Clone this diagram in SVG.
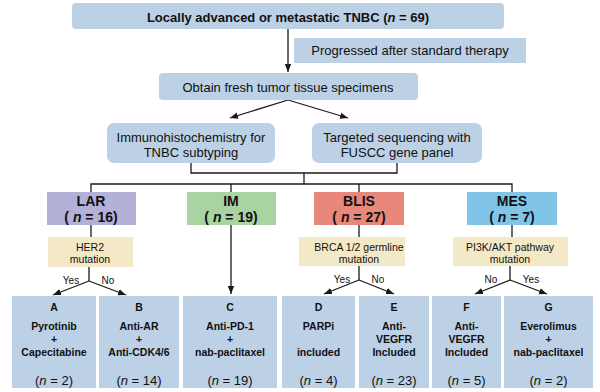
<svg xmlns="http://www.w3.org/2000/svg" width="600" height="392" viewBox="0 0 600 392">
<defs>
<marker id="ah" markerUnits="userSpaceOnUse" markerWidth="8" markerHeight="8" viewBox="0 0 8 8" refX="8" refY="4" orient="auto">
<path d="M0,0.8 L8,4 L0,7.2 Z" fill="#1a1a1a"/>
</marker>
<style>
text{font-family:"Liberation Sans",Arial,sans-serif;fill:#111;text-anchor:middle}
.b{font-weight:bold}
.blue{fill:#bcd0e6}
.yel{fill:#f3e9c7}
.t13{font-size:13px}
.t14{font-size:14px}
.t11{font-size:10.5px}
.t10{font-size:10px}
.bt{font-size:10.5px;font-weight:bold}
.nn{font-size:13px}
.ln{fill:none;stroke:#1a1a1a;stroke-width:1.3}
</style>
</defs>

<g id="connectors">
<line class="ln" x1="288" y1="29" x2="288" y2="72" marker-end="url(#ah)"/>
<line class="ln" x1="288" y1="100" x2="230" y2="118" marker-end="url(#ah)"/>
<line class="ln" x1="288" y1="100" x2="348" y2="118" marker-end="url(#ah)"/>
<polyline class="ln" points="191,163 191,173 397,173 397,163"/>
<line class="ln" x1="304" y1="173" x2="304" y2="184"/>
<polyline class="ln" points="91,192 91,184 512,184 512,192"/>
<line class="ln" x1="231" y1="184" x2="231" y2="192"/>
<line class="ln" x1="359" y1="184" x2="359" y2="192"/>
<line class="ln" x1="91" y1="225" x2="91" y2="237"/>
<line class="ln" x1="359" y1="225" x2="359" y2="237"/>
<line class="ln" x1="512" y1="225" x2="512" y2="237"/>
<line class="ln" x1="231" y1="225" x2="231" y2="294" marker-end="url(#ah)"/>
<line class="ln" x1="89" y1="267" x2="89" y2="281"/>
<line class="ln" x1="89" y1="281" x2="53" y2="295" marker-end="url(#ah)"/>
<line class="ln" x1="89" y1="281" x2="126" y2="295" marker-end="url(#ah)"/>
<line class="ln" x1="359" y1="266" x2="359" y2="280"/>
<line class="ln" x1="359" y1="280" x2="324" y2="294" marker-end="url(#ah)"/>
<line class="ln" x1="359" y1="280" x2="394" y2="294" marker-end="url(#ah)"/>
<line class="ln" x1="510" y1="266" x2="510" y2="280"/>
<line class="ln" x1="510" y1="280" x2="475" y2="294" marker-end="url(#ah)"/>
<line class="ln" x1="510" y1="280" x2="547" y2="294" marker-end="url(#ah)"/>
<text class="t10" x="71" y="284">Yes</text>
<text class="t10" x="108" y="284">No</text>
<text class="t10" x="342" y="283">Yes</text>
<text class="t10" x="378" y="283">No</text>
<text class="t10" x="491" y="283">No</text>
<text class="t10" x="531" y="283">Yes</text>
</g>

<g id="top">
<rect class="blue" x="72" y="3" width="432" height="26" rx="4"/>
<text class="b t13" x="288" y="22">Locally advanced or metastatic TNBC (<tspan font-style="italic">n</tspan> = 69)</text>
</g>
<g id="progressed">
<rect class="blue" x="294" y="38" width="232" height="25"/>
<text class="t13" x="410" y="55">Progressed after standard therapy</text>
</g>
<g id="obtain">
<rect class="blue" x="159" y="73" width="259" height="27" rx="4"/>
<text class="t13" x="288" y="92">Obtain fresh tumor tissue specimens</text>
</g>
<g id="ihc">
<rect class="blue" x="107" y="123" width="168" height="40" rx="7"/>
<text class="t13" x="191" y="142">Immunohistochemistry for</text>
<text class="t13" x="191" y="157">TNBC subtyping</text>
</g>
<g id="seq">
<rect class="blue" x="312" y="123" width="170" height="40" rx="7"/>
<text class="t13" x="397" y="142">Targeted sequencing with</text>
<text class="t13" x="397" y="157">FUSCC gene panel</text>
</g>

<g id="lar">
<rect x="47" y="192" width="89" height="33" fill="#b4b1d8"/>
<text class="b t14" x="91" y="206">LAR</text>
<text class="b t14" x="91" y="222">( <tspan font-style="italic">n</tspan> = 16)</text>
</g>
<g id="im">
<rect x="187" y="192" width="89" height="33" fill="#a9d3a0"/>
<text class="b t14" x="231" y="206">IM</text>
<text class="b t14" x="231" y="222">( <tspan font-style="italic">n</tspan> = 19)</text>
</g>
<g id="blis">
<rect x="314" y="192" width="90" height="33" fill="#e8887a"/>
<text class="b t14" x="359" y="206">BLIS</text>
<text class="b t14" x="359" y="222">( <tspan font-style="italic">n</tspan> = 27)</text>
</g>
<g id="mes">
<rect x="467" y="192" width="90" height="33" fill="#80c5e8"/>
<text class="b t14" x="512" y="206">MES</text>
<text class="b t14" x="512" y="222">( <tspan font-style="italic">n</tspan> = 7)</text>
</g>

<g id="her2">
<rect class="yel" x="48" y="237" width="85" height="30"/>
<text class="t11" x="90" y="251">HER2</text>
<text class="t11" x="90" y="263">mutation</text>
</g>
<g id="brca">
<rect class="yel" x="299" y="237" width="106" height="29"/>
<text class="t11" x="359" y="251">BRCA 1/2 germline</text>
<text class="t11" x="359" y="263">mutation</text>
</g>
<g id="pi3k">
<rect class="yel" x="453" y="237" width="115" height="29"/>
<text class="t11" x="510" y="251">PI3K/AKT pathway</text>
<text class="t11" x="510" y="263">mutation</text>
</g>

<g id="boxA">
<rect class="blue" x="12" y="296" width="84" height="92"/>
<text class="bt" x="54" y="311">A</text>
<text class="bt" x="54" y="330">Pyrotinib</text>
<text class="bt" x="54" y="343">+</text>
<text class="bt" x="54" y="356">Capecitabine</text>
<text class="nn" x="54" y="385">(<tspan font-style="italic">n</tspan> = 2)</text>
</g>
<g id="boxB">
<rect class="blue" x="99" y="296" width="80" height="92"/>
<text class="bt" x="139" y="311">B</text>
<text class="bt" x="139" y="330">Anti-AR</text>
<text class="bt" x="139" y="343">+</text>
<text class="bt" x="139" y="356">Anti-CDK4/6</text>
<text class="nn" x="139" y="385">(<tspan font-style="italic">n</tspan> = 14)</text>
</g>
<g id="boxC">
<rect class="blue" x="183" y="296" width="94" height="92"/>
<text class="bt" x="230" y="311">C</text>
<text class="bt" x="230" y="330">Anti-PD-1</text>
<text class="bt" x="230" y="343">+</text>
<text class="bt" x="230" y="356">nab-paclitaxel</text>
<text class="nn" x="230" y="385">(<tspan font-style="italic">n</tspan> = 19)</text>
</g>
<g id="boxD">
<rect class="blue" x="282" y="296" width="73" height="92"/>
<text class="bt" x="318.5" y="311">D</text>
<text class="bt" x="318.5" y="330">PARPi</text>
<text class="bt" x="318.5" y="356">included</text>
<text class="nn" x="318.5" y="385">(<tspan font-style="italic">n</tspan> = 4)</text>
</g>
<g id="boxE">
<rect class="blue" x="359" y="296" width="70" height="92"/>
<text class="bt" x="394" y="311">E</text>
<text class="bt" x="394" y="330">Anti-</text>
<text class="bt" x="394" y="343">VEGFR</text>
<text class="bt" x="394" y="356">Included</text>
<text class="nn" x="394" y="385">(<tspan font-style="italic">n</tspan> = 23)</text>
</g>
<g id="boxF">
<rect class="blue" x="432" y="296" width="69" height="92"/>
<text class="bt" x="466.5" y="311">F</text>
<text class="bt" x="466.5" y="330">Anti-</text>
<text class="bt" x="466.5" y="343">VEGFR</text>
<text class="bt" x="466.5" y="356">Included</text>
<text class="nn" x="466.5" y="385">(<tspan font-style="italic">n</tspan> = 5)</text>
</g>
<g id="boxG">
<rect class="blue" x="504" y="296" width="89" height="92"/>
<text class="bt" x="548.5" y="311">G</text>
<text class="bt" x="548.5" y="330">Everolimus</text>
<text class="bt" x="548.5" y="343">+</text>
<text class="bt" x="548.5" y="356">nab-paclitaxel</text>
<text class="nn" x="548.5" y="385">(<tspan font-style="italic">n</tspan> = 2)</text>
</g>
</svg>
